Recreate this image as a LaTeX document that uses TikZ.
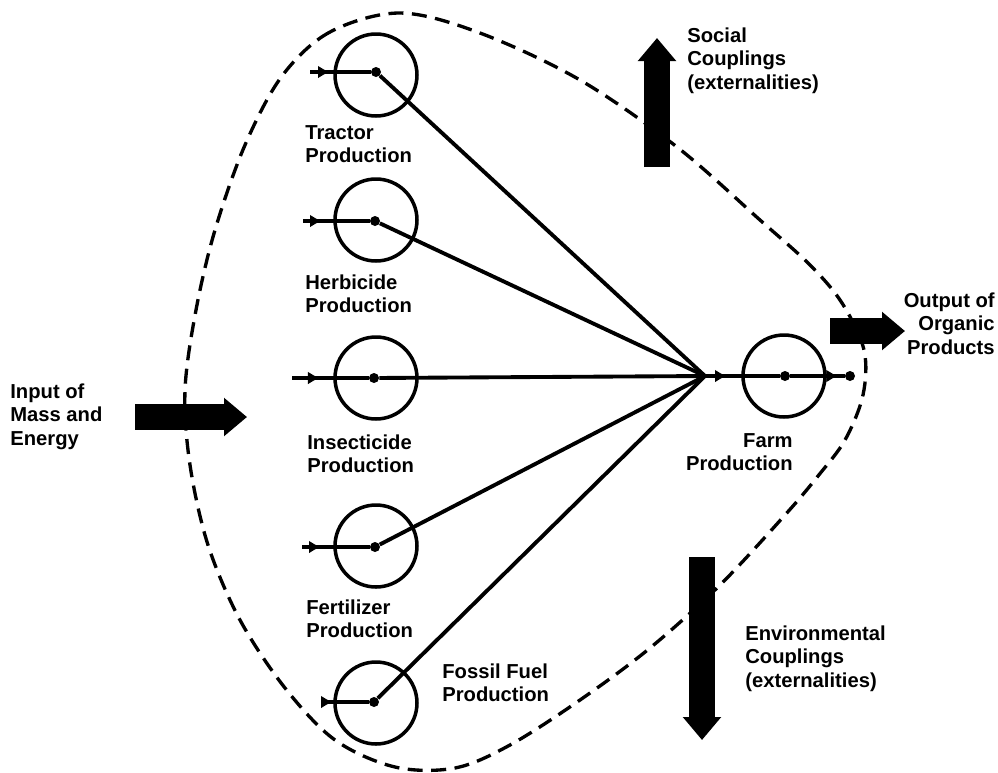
\documentclass[tikz,border=0pt]{standalone}
\usepackage{fontspec}
\setmainfont{Liberation Sans}
\usetikzlibrary{arrows.meta,decorations.markings}

\begin{document}
\begin{tikzpicture}[
    x=0.02cm, y=-0.02cm,
    every node/.style={font=\bfseries\fontsize{11.5}{13.5}\selectfont},
    txt/.style={align=left, inner sep=0pt, anchor=north west},
    stage/.style={draw, circle, line width=2pt, minimum size=1.64cm, inner sep=0pt},
    hub/.style={circle, fill, inner sep=0pt, minimum size=0.2cm},
    flow/.style={line width=2.2pt},
    tipat/.style={postaction={decorate}, decoration={markings,
        mark=at position #1 with {\arrow{Latex[length=0.24cm,width=0.26cm]}}}},
    bigarrow/.style={line width=0.52cm, -{Triangle[width=0.74cm,length=0.46cm]}},
    boundary/.style={line width=1.9pt, dash pattern=on 0.3cm off 0.17cm}
]
    \useasboundingbox (0,0) rectangle (998,772);

    % System boundary
    \draw[boundary] plot[smooth cycle, tension=0.55] coordinates {
        (400,13) (330,32) (282,76) (245,145) (215,230) (196,310) (185,390)
        (190,465) (208,545) (240,620) (285,688) (335,740) (395,767) (455,768)
        (510,745) (580,700) (650,648) (720,585) (785,515) (818,476) (845,440)
        (863,395) (864,350) (842,303) (810,265) (760,220) (677,147) (580,80)
        (480,33)};

    % Production stages
    \node[stage] (tractor) at (376,75) {};
    \node[stage] (herbicide) at (376,220) {};
    \node[stage] (insecticide) at (376,378) {};
    \node[stage] (fertilizer) at (376,546) {};
    \node[stage] (fossil) at (376,703) {};
    \node[stage] (farm) at (784,376) {};

    \node[hub] (tractor-dot) at (376,72) {};
    \node[hub] (herbicide-dot) at (375,221) {};
    \node[hub] (insecticide-dot) at (374,378) {};
    \node[hub] (fertilizer-dot) at (375,547) {};
    \node[hub] (fossil-dot) at (374,702) {};
    \node[hub] (farm-dot) at (785,376) {};
    \node[hub] (out-dot) at (850,376) {};
    \coordinate (conv) at (705,376);

    % Inputs to the stages
    \coordinate (tractor-in) at (310,72);
    \coordinate (herbicide-in) at (303,221);
    \coordinate (insecticide-in) at (292,378);
    \coordinate (fertilizer-in) at (302,547);
    \coordinate (fossil-in) at (323,702);
    \draw[flow, tipat=0.4cm] (tractor-in) -- (tractor-dot);
    \draw[flow, tipat=0.38cm] (herbicide-in) -- (herbicide-dot);
    \draw[flow, tipat=0.56cm] (insecticide-in) -- (insecticide-dot);
    \draw[flow, tipat=0.38cm] (fertilizer-in) -- (fertilizer-dot);
    \draw[flow, tipat=0.2cm] (fossil-in) -- (fossil-dot);

    % Flows into farm production
    \foreach \src in {tractor,herbicide,insecticide,fertilizer,fossil}
        \draw[flow] (\src-dot) -- (conv);
    \draw[flow, tipat=0.44cm] (conv) -- (farm-dot);
    \draw[flow, tipat=0.96cm] (farm-dot) -- (out-dot);

    % Labels
    \node[txt] (tractor-lbl) at (305,125) {Tractor\\Production};
    \node[txt] (herbicide-lbl) at (305,274) {Herbicide\\Production};
    \node[txt] (insecticide-lbl) at (307,434) {Insecticide\\Production};
    \node[txt] (fertilizer-lbl) at (306,599) {Fertilizer\\Production};
    \node[txt] (fossil-lbl) at (442,663) {Fossil Fuel\\Production};
    \node[txt, anchor=north east, align=right] (farm-lbl) at (793,433) {Farm\\Production};

    % Couplings with the outside
    \coordinate (in-a) at (135,417);
    \coordinate (in-b) at (247,417);
    \coordinate (soc-a) at (657,167);
    \coordinate (soc-b) at (657,38);
    \coordinate (env-a) at (702,557);
    \coordinate (env-b) at (702,740);
    \coordinate (out-a) at (830,331);
    \coordinate (out-b) at (905,331);
    \draw[bigarrow] (in-a) -- (in-b);
    \draw[bigarrow] (soc-a) -- (soc-b);
    \draw[bigarrow] (env-a) -- (env-b);
    \draw[bigarrow] (out-a) -- (out-b);

    \node[txt] (in-lbl) at (10,383) {Input of\\Mass and\\Energy};
    \node[txt] (soc-lbl) at (687,27) {Social\\Couplings\\(externalities)};
    \node[txt] (env-lbl) at (745,625) {Environmental\\Couplings\\(externalities)};
    \node[txt, anchor=north east, align=right] (out-lbl) at (995,292) {Output of\\Organic\\Products};

\end{tikzpicture}
\end{document}
